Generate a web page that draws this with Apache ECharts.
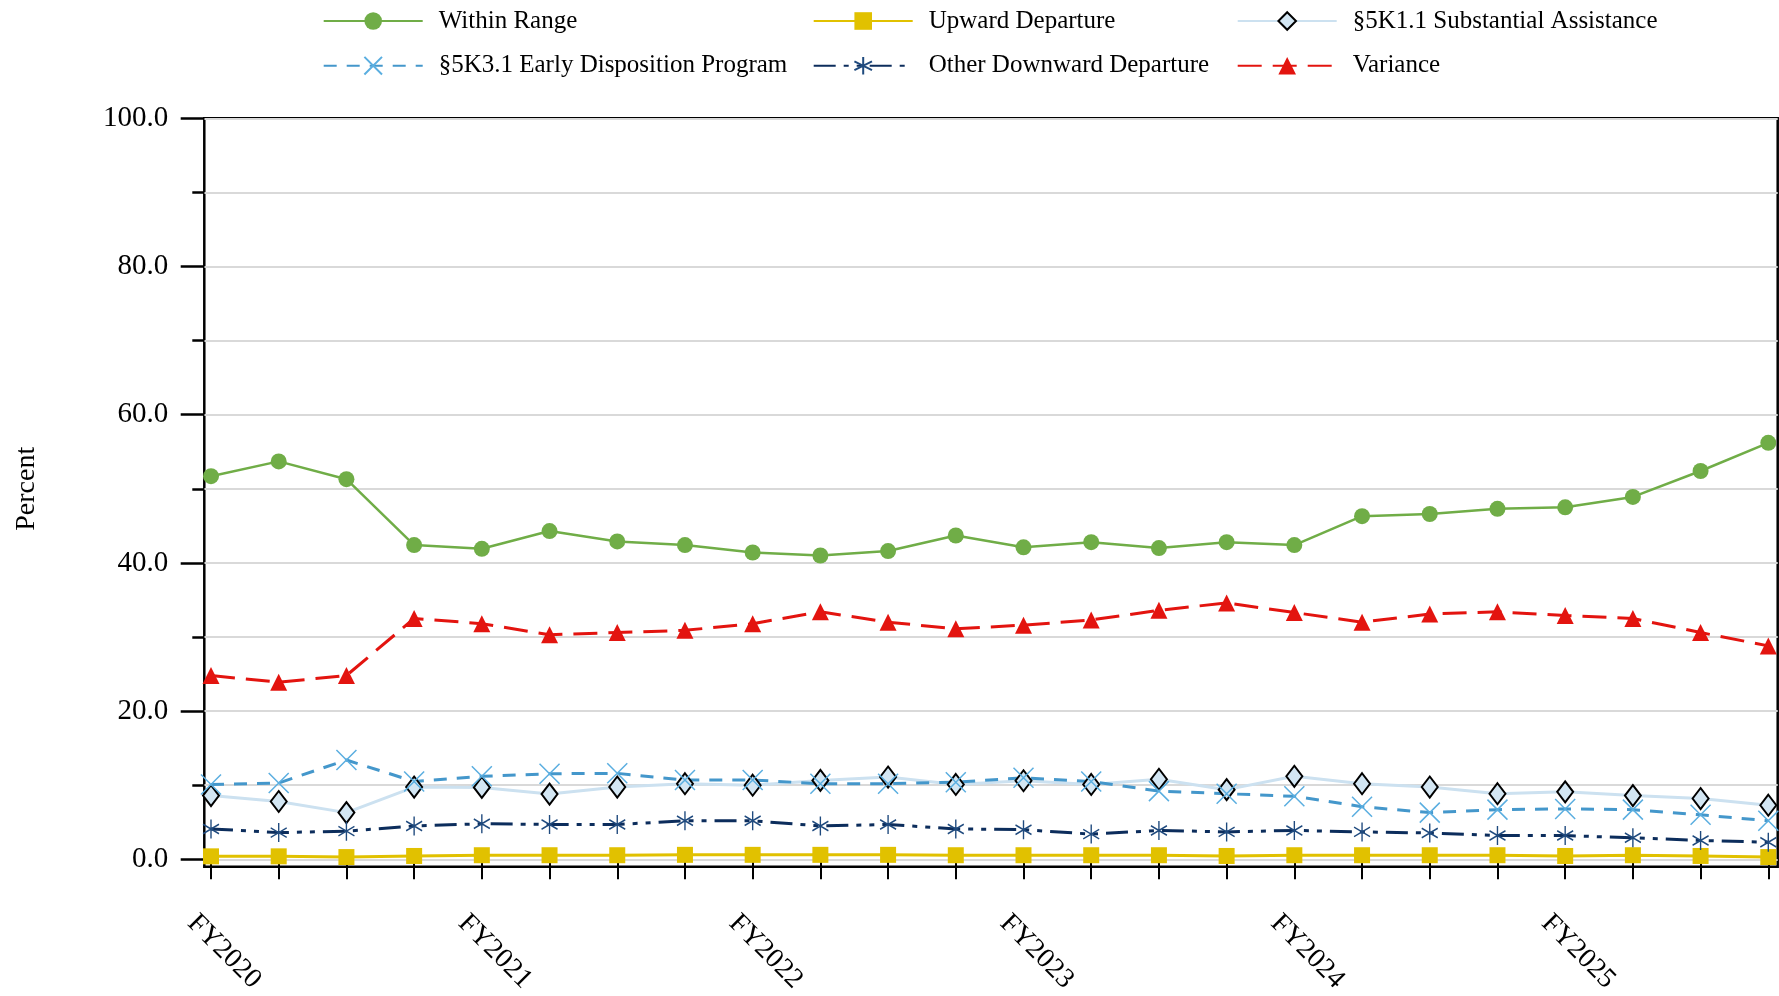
<!DOCTYPE html>
<html>
<head>
<meta charset="utf-8">
<script src="https://cdn.jsdelivr.net/npm/echarts@6/dist/echarts.min.js"></script>
<style>
html,body{margin:0;padding:0;background:#fff;}
#chart{width:1779px;height:996px;}
</style>
</head>
<body>
<div id="chart"></div>
<script>
// Quarterly categories FY2020 Q1 .. FY2025 Q4
const fiscalYears = ['FY2020','FY2021','FY2022','FY2023','FY2024','FY2025'];
const quarters = ['Q1','Q2','Q3','Q4'];
const categories = [];
fiscalYears.forEach(fy => quarters.forEach(q => categories.push(fy + ' ' + q)));

const yTickValues = [0, 20, 40, 60, 80, 100];

const withinRange = [51.7, 53.7, 51.3, 42.4, 41.9, 44.3, 42.9, 42.4, 41.4, 41.0, 41.6, 43.7, 42.1, 42.8, 42.0, 42.8, 42.4, 46.3, 46.6, 47.3, 47.5, 48.9, 52.4, 56.2];
const upwardDeparture = [0.4, 0.4, 0.3, 0.45, 0.55, 0.55, 0.55, 0.6, 0.6, 0.6, 0.6, 0.55, 0.55, 0.55, 0.55, 0.45, 0.55, 0.55, 0.55, 0.55, 0.45, 0.55, 0.45, 0.3];
const substantialAssistance = [8.6, 7.8, 6.3, 9.75, 9.7, 8.8, 9.75, 10.2, 10.0, 10.65, 11.1, 10.1, 10.6, 10.1, 10.8, 9.4, 11.2, 10.2, 9.75, 8.85, 9.1, 8.6, 8.2, 7.3];
const earlyDisposition = [10.1, 10.3, 13.4, 10.5, 11.2, 11.55, 11.6, 10.7, 10.7, 10.2, 10.2, 10.4, 11.0, 10.5, 9.2, 8.85, 8.5, 7.1, 6.3, 6.7, 6.8, 6.7, 6.0, 5.2];
const otherDownward = [4.1, 3.6, 3.8, 4.5, 4.8, 4.7, 4.7, 5.2, 5.2, 4.5, 4.7, 4.1, 4.0, 3.4, 3.9, 3.7, 3.9, 3.7, 3.55, 3.2, 3.2, 2.9, 2.55, 2.3];
const variance = [24.8, 23.9, 24.8, 32.5, 31.8, 30.3, 30.6, 30.9, 31.8, 33.4, 32.0, 31.1, 31.6, 32.3, 33.6, 34.6, 33.3, 32.0, 33.1, 33.4, 32.9, 32.5, 30.6, 28.8];

const FONT = '"Liberation Serif", "Times New Roman", serif';
const chart = echarts.init(document.getElementById('chart'), null, {renderer: 'canvas'});

const yMin = yTickValues[0], yMax = yTickValues[yTickValues.length - 1];

const legendCommon = {
  orient: 'vertical',
  top: 8,
  itemWidth: 99,
  itemHeight: 22,
  itemGap: 18.7,
  padding: 0,
  textStyle: {fontFamily: FONT, fontSize: 25, color: '#000', lineHeight: 26, padding: [0, 0, 0, 11]}
};

const option = {
  animation: false,
  backgroundColor: '#fff',
  legend: [
    Object.assign({}, legendCommon, {left: 322.7, data: ['Within Range', '§5K3.1 Early Disposition Program']}),
    Object.assign({}, legendCommon, {left: 812.7, data: ['Upward Departure', 'Other Downward Departure']}),
    Object.assign({}, legendCommon, {left: 1236.7, data: ['§5K1.1 Substantial Assistance', 'Variance']})
  ],
  grid: [
    // data grid (points span first to last tick)
    {left: 211, right: 10.7, top: 118.3, bottom: 136.7, outerBoundsMode: 'none', containLabel: false},
    // frame box
    {left: 204.3, right: 1.3, top: 118.3, bottom: 129.3, outerBoundsMode: 'none', containLabel: false,
     show: true, borderColor: '#000', borderWidth: 2.5, backgroundColor: 'transparent'},
    // value axis + gridlines grid
    {left: 204.3, right: 1.3, top: 118.3, bottom: 136.7, outerBoundsMode: 'none', containLabel: false}
  ],
  xAxis: [
    {
      type: 'category', gridIndex: 0, data: categories, boundaryGap: false, offset: 7.4,
      axisLine: {show: false},
      axisTick: {show: true, interval: 0, length: 20, lineStyle: {color: '#000', width: 2}},
      axisLabel: {
        interval: 3, rotate: -45, align: 'center', verticalAlign: 'bottom', lineHeight: 37, margin: 98,
        fontFamily: FONT, fontSize: 28, color: '#000',
        formatter: v => v.split(' ')[0]
      },
      splitLine: {show: false}
    },
    {type: 'value', gridIndex: 1, show: false, min: 0, max: 1},
    {type: 'value', gridIndex: 2, show: false, min: 0, max: 1}
  ],
  yAxis: [
    {type: 'value', gridIndex: 0, show: false, min: yMin, max: yMax},
    {type: 'value', gridIndex: 1, show: false, min: 0, max: 1},
    {
      type: 'value', gridIndex: 2, min: yMin, max: yMax, interval: 20,
      name: 'Percent', nameLocation: 'middle', nameGap: 164,
      nameTextStyle: {fontFamily: FONT, fontSize: 28, color: '#000'},
      axisLine: {show: false},
      axisTick: {show: true, length: 23.6, lineStyle: {color: '#000', width: 2.5}},
      minorTick: {show: true, splitNumber: 2, length: 12, lineStyle: {color: '#000', width: 2.5}},
      axisLabel: {fontFamily: FONT, fontSize: 29, color: '#000', margin: 36, formatter: v => v.toFixed(1)},
      splitLine: {show: true, lineStyle: {color: '#D9D9D9', width: 2}},
      minorSplitLine: {show: true, lineStyle: {color: '#D9D9D9', width: 2}}
    }
  ],
  series: [
    {
      name: 'Within Range', type: 'line', data: withinRange, clip: false,
      symbol: 'circle', symbolSize: 16,
      lineStyle: {color: '#70AD47', width: 2.5, type: 'solid'},
      itemStyle: {color: '#70AD47'}
    },
    {
      name: 'Upward Departure', type: 'line', data: upwardDeparture, clip: false,
      symbol: 'rect', symbolSize: 16,
      lineStyle: {color: '#E1C100', width: 3, type: 'solid'},
      itemStyle: {color: '#E1C100'}
    },
    {
      name: '§5K1.1 Substantial Assistance', type: 'line', data: substantialAssistance, clip: false,
      symbol: 'diamond', symbolSize: [16, 21],
      lineStyle: {color: '#CCE1F0', width: 3, type: 'solid'},
      itemStyle: {color: '#D3E6F3', borderColor: '#000', borderWidth: 2}
    },
    {
      name: '§5K3.1 Early Disposition Program', type: 'line', data: earlyDisposition, clip: false,
      symbol: 'path://M0,0L20,20M20,0L0,20', symbolSize: [20, 20],
      lineStyle: {color: '#4497CB', width: 3, type: [13, 10]},
      itemStyle: {color: 'rgba(0,0,0,0)', borderColor: '#5AAEE0', borderWidth: 1.5}
    },
    {
      name: 'Other Downward Departure', type: 'line', data: otherDownward, clip: false,
      symbol: 'path://M8,0L8,19M0,4.75L16,14.25M0,14.25L16,4.75', symbolSize: [16, 19],
      lineStyle: {color: '#0C2D5C', width: 3, type: [22, 8, 5, 8, 5, 8]},
      itemStyle: {color: 'rgba(0,0,0,0)', borderColor: '#1F4A7E', borderWidth: 1.5}
    },
    {
      name: 'Variance', type: 'line', data: variance, clip: false,
      symbol: 'triangle', symbolSize: 17,
      lineStyle: {color: '#E3140F', width: 3, type: [24, 11]},
      itemStyle: {color: '#E3140F'}
    }
  ]
};
chart.setOption(option);
</script>
</body>
</html>
